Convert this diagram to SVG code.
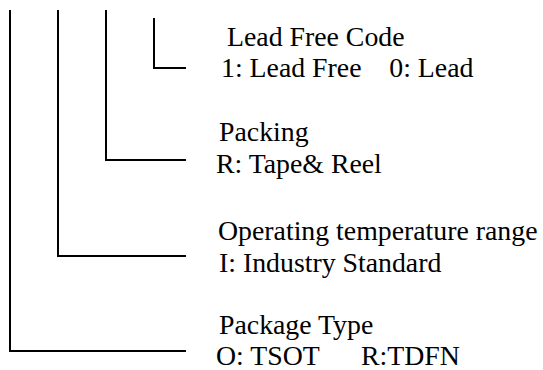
<svg xmlns="http://www.w3.org/2000/svg" width="543" height="370" viewBox="0 0 543 370">
<style>
.c{fill:none;stroke:#000;stroke-width:2}
.t{font-family:"Liberation Serif","Times New Roman",serif;font-size:27.8px;fill:#000}
</style>
<rect width="543" height="370" fill="#fff"/>
<g id="connectors">
<path class="c" d="M154 18V68H186"/>
<path class="c" d="M106 10V160H186"/>
<path class="c" d="M58 10V256H186"/>
<path class="c" d="M10 10V351H186"/>
</g>
<g id="lead-free">
<text class="t" x="227" y="46">Lead Free Code</text>
<text class="t" x="221" y="77" xml:space="preserve">1: Lead Free    0: Lead</text>
</g>
<g id="packing">
<text class="t" x="219" y="141">Packing</text>
<text class="t" x="216" y="173">R: Tape&amp; Reel</text>
</g>
<g id="temperature">
<text class="t" x="218" y="240">Operating temperature range</text>
<text class="t" x="219" y="272">I: Industry Standard</text>
</g>
<g id="package">
<text class="t" x="219" y="334">Package Type</text>
<text class="t" x="216" y="365" xml:space="preserve">O: TSOT      R:TDFN</text>
</g>
</svg>
